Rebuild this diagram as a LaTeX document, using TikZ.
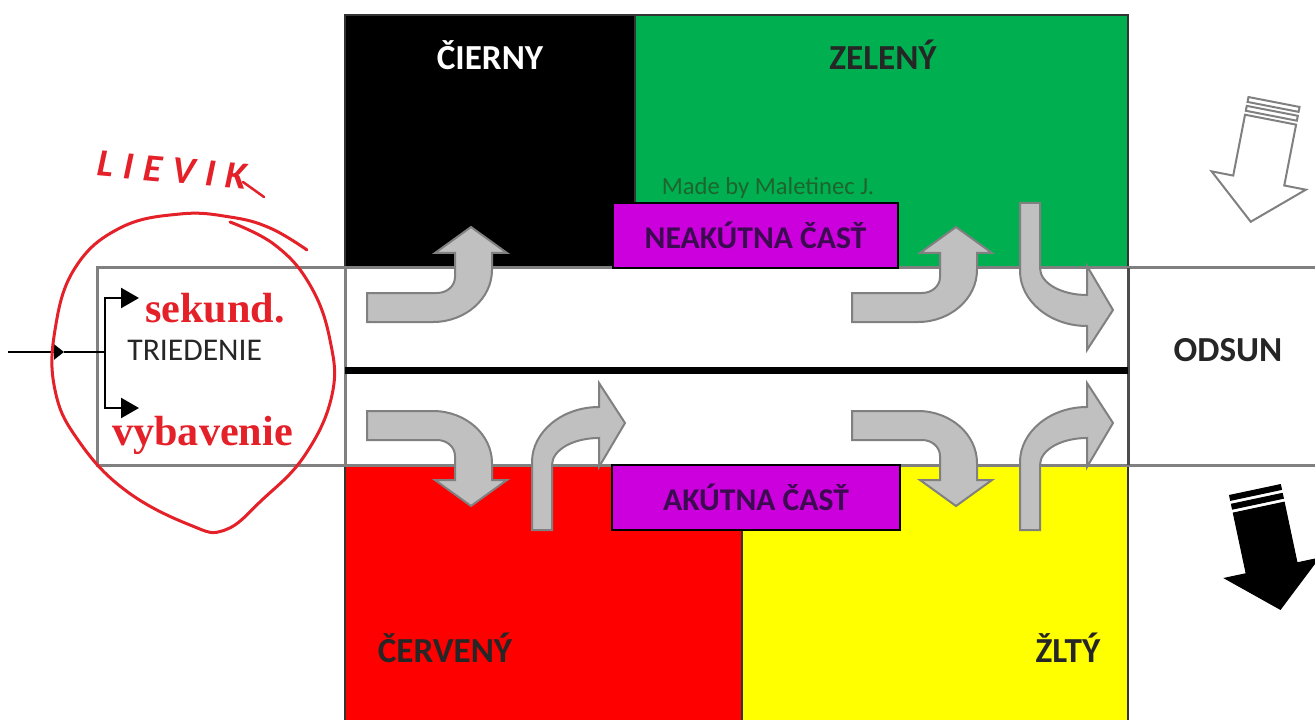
\documentclass[tikz,border=0pt]{standalone}
\usepackage{fontspec}
\setmainfont{Carlito}
\newfontfamily\pismo{Liberation Serif}
\newfontfamily\rukopis[LetterSpace=26]{Carlito}
\usepackage{tikz}
\usetikzlibrary{arrows.meta,positioning}

\definecolor{zelena}{RGB}{0,176,80}
\definecolor{cervena}{RGB}{255,0,0}
\definecolor{zlta}{RGB}{255,255,0}
\definecolor{fialova}{RGB}{204,0,221}
\definecolor{fialtext}{RGB}{60,10,80}
\definecolor{sediva}{RGB}{192,192,192}
\definecolor{obrys}{RGB}{128,128,128}
\definecolor{rucne}{RGB}{228,32,40}
\definecolor{podpis}{RGB}{30,100,45}

\begin{document}
\begin{tikzpicture}[x=0.2mm,y=-0.2mm]
  \tikzset{farba/.style = {font=\fontsize{20}{22}\selectfont\bfseries, inner sep=0pt}}
  \tikzset{cast/.style = {draw=black, line width=0.3mm, fill=fialova, text=fialtext,
      font=\fontsize{18}{20}\selectfont\bfseries, inner sep=0pt}}
  \tikzset{pero/.style = {text=rucne, font=\pismo\fontsize{24}{26}\selectfont\bfseries, inner sep=0pt}}
  \tikzset{spoj/.style = {draw=black, line width=0.5mm}}
  \tikzset{pas/.style = {draw=obrys, line width=0.6mm}}
  \tikzset{sipka/.style = {fill=sediva, draw=obrys, line width=0.4mm}}
  \tikzset{bentarrow/.pic = {
      \path[sipka] (0,-73.5) -- (70,-73.5) .. controls (80,-73.5) and (88,-80.5) .. (88,-89.5)
        -- (88,-113.5) -- (68,-113.5) -- (104,-139.5) -- (140,-113.5) -- (125,-113.5)
        -- (125,-96.5) .. controls (125,-68) and (98.5,-44.5) .. (66,-44.5) -- (0,-44.5) -- cycle;}}
  \tikzset{curvearrow/.pic = {
      \path[sipka] (0,163.5) -- (0,95.5) .. controls (0,65.5) and (30,40.5) .. (67,40.5)
        -- (67,16.5) -- (93,56.5) -- (67,100.5) -- (67,71.5)
        .. controls (41,71.5) and (20,83.5) .. (20,98.5) -- (20,163.5) -- cycle;}}
  \tikzset{stripearrow/.pic = {
      \path[pic actions] (-26,0) rectangle (26,5);
      \path[pic actions] (-26,9) rectangle (26,14);
      \path[pic actions] (-26,18) -- (26,18) -- (26,80) -- (48,80) -- (0,122)
        -- (-48,80) -- (-26,80) -- cycle;}}

  \useasboundingbox (0,0) rectangle (1315,720);
  \clip (0,0) rectangle (1315,720);

  % farebne polia
  \path[fill=black, draw=black!80, line width=0.4mm] (345,15) rectangle (635,268);
  \path[fill=zelena, draw=black!80, line width=0.4mm] (635,15) rectangle (1128,268);
  \path[fill=cervena, draw=black!80, line width=0.4mm] (345,465) rectangle (742,722);
  \path[fill=zlta, draw=black!80, line width=0.4mm] (742,465) rectangle (1128,722);

  % pas s triedenim
  \draw[pas] (97,268) rectangle (1330,465);
  \draw[pas] (345,268) -- (345,465);
  \draw[pas, draw=black!70] (1128,268) -- (1128,465);
  \fill[black] (345,367) rectangle (1128,374);

  % nazvy
  \node[farba, text=white] (cierny) at (490,55) {ČIERNY};
  \node[farba, text=black!85] (zeleny) at (883,55) {ZELENÝ};
  \node[farba, text=black!85] (cerveny) at (445,648) {ČERVENÝ};
  \node[farba, text=black!85] (zlty) at (1068,648) {ŽLTÝ};
  \node[farba, text=black!85] (odsun) at (1228,350) {ODSUN};
  \node[text=podpis, font=\fontsize{14}{16}\selectfont, inner sep=0pt] (podpis) at (768,188) {Made by Maletinec J.};
  \node[cast, minimum width=57mm, minimum height=13mm] (neakutna) at (755.5,235.5) {NEAKÚTNA ČASŤ};
  \node[cast, minimum width=57.6mm, minimum height=13mm] (akutna) at (756,497.5) {AKÚTNA ČASŤ};

  % sipky
  \pic at (367,366.5) {bentarrow};
  \pic at (852,366.5) {bentarrow};
  \pic[yscale=-1] at (367,366.5) {bentarrow};
  \pic[yscale=-1] at (852,366.5) {bentarrow};
  \pic at (532,366.5) {curvearrow};
  \pic at (1020,366.5) {curvearrow};
  \pic[yscale=-1] at (1020,366.5) {curvearrow};

  \pic[rotate=-11, fill=white, draw=obrys, line width=0.4mm] at (1274,102) {stripearrow};
  \pic[rotate=12, fill=black, draw=black, line width=0.2mm] at (1255,490) {stripearrow};

  % triedenie
  \node[anchor=base west, inner sep=0pt, font=\fontsize{18}{20}\selectfont, text=black!85] (triedenie) at (127,360) {TRIEDENIE};
  \node[pero, anchor=base west] (sekund) at (145,322) {sekund.};
  \node[pero, anchor=base west] (vybavenie) at (112,445) {vybavenie};

  \coordinate (vstup) at (8,352);
  \coordinate (stred) at (64,352);
  \coordinate (rozvod) at (105,352);
  \coordinate (hore) at (105,298);
  \coordinate (dole) at (105,408);
  \coordinate (horehrot) at (139,298);
  \coordinate (dolehrot) at (139,408);
  \draw[spoj, -{Triangle[length=2mm,width=3mm]}] (vstup) -- (stred);
  \draw[spoj] (stred) -- (rozvod);
  \draw[spoj, -{Triangle[length=3.6mm,width=4mm]}] (rozvod) -- (hore) -- (horehrot);
  \draw[spoj, -{Triangle[length=3.6mm,width=4mm]}] (rozvod) -- (dole) -- (dolehrot);

  % lievik rucne
  \node[text=rucne, font=\rukopis\fontsize{22}{24}\selectfont\bfseries\itshape, rotate=-5, inner sep=0pt] (lievik) at (172,170) {LIEVIK};
  \draw[rucne, line width=0.5mm, line cap=round] (243,182) -- (264,197);
  \draw[rucne, line width=0.6mm, line cap=round] plot[smooth, tension=0.7] coordinates {
      (307,250) (270,228) (230,217) (180,214) (120,228) (75,268) (55,330) (55,390)
      (78,440) (125,490) (190,525) (225,530) (262,500) (305,455) (332,395)
      (330,340) (310,285) (275,245) (230,222)};
\end{tikzpicture}
\end{document}
